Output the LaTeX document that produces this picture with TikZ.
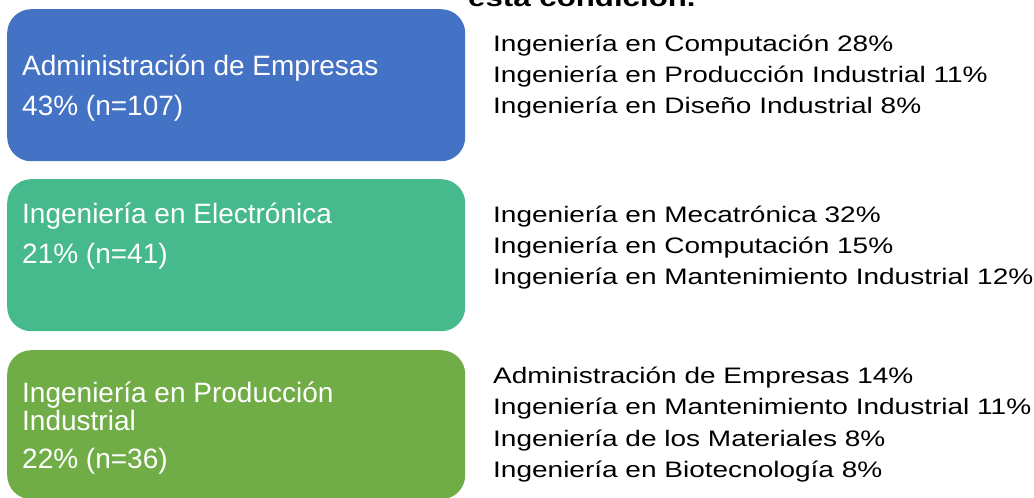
\documentclass[tikz,border=0pt]{standalone}
\usepackage{fontspec}
\setmainfont{Liberation Sans}
\newfontfamily\widefont[FakeStretch=1.25]{Liberation Sans}
\definecolor{boxblue}{HTML}{4472C4}
\definecolor{boxteal}{HTML}{46B98D}
\definecolor{boxgreen}{HTML}{70AD47}
\begin{document}
\begin{tikzpicture}[x=1pt,y=-1pt,
  catbox/.style={rectangle,rounded corners=24pt,anchor=north west,inner sep=0pt,
    minimum width=458pt,minimum height=152pt,draw=none},
  boxtext/.style={anchor=base west,inner sep=0pt,text=white,font=\fontsize{28}{32}\selectfont},
  sidetext/.style={anchor=base west,inner sep=0pt,text=black,font=\widefont\fontsize{22.4}{31}\selectfont}]
\useasboundingbox (0,0) rectangle (1034,498);
\clip (0,0) rectangle (1034,498);
\node[anchor=base west,inner sep=0pt,font=\widefont\bfseries\fontsize{25}{30}\selectfont] (title) at (468,6.5) {esta condición.};
\node[catbox,fill=boxblue] (b1) at (7,9) {};
\node[catbox,fill=boxteal] (b2) at (7,179) {};
\node[catbox,fill=boxgreen,minimum height=149pt] (b3) at (7,350) {};
% box texts
\node[boxtext] (b1a) at (22,75) {Administración de Empresas};
\node[boxtext] (b1b) at (22,115) {43\% (n=107)};
\node[boxtext] (b2a) at (22,223) {Ingeniería en Electrónica};
\node[boxtext] (b2b) at (22,263) {21\% (n=41)};
\node[boxtext] (b3a) at (22,402) {Ingeniería en Producción};
\node[boxtext] (b3b) at (22,430) {Industrial};
\node[boxtext] (b3c) at (22,468) {22\% (n=36)};
% side texts
\node[sidetext] (r1a) at (493,51) {Ingeniería en Computación 28\%};
\node[sidetext] (r1b) at (493,82) {Ingeniería en Producción Industrial 11\%};
\node[sidetext] (r1c) at (493,113) {Ingeniería en Diseño Industrial 8\%};
\node[sidetext] (r2a) at (493,222) {Ingeniería en Mecatrónica 32\%};
\node[sidetext] (r2b) at (493,253) {Ingeniería en Computación 15\%};
\node[sidetext] (r2c) at (493,284) {Ingeniería en Mantenimiento Industrial 12\%};
\node[sidetext] (r3a) at (493,383) {Administración de Empresas 14\%};
\node[sidetext] (r3b) at (493,414) {Ingeniería en Mantenimiento Industrial 11\%};
\node[sidetext] (r3c) at (493,446) {Ingeniería de los Materiales 8\%};
\node[sidetext] (r3d) at (493,477) {Ingeniería en Biotecnología 8\%};
\end{tikzpicture}
\end{document}
